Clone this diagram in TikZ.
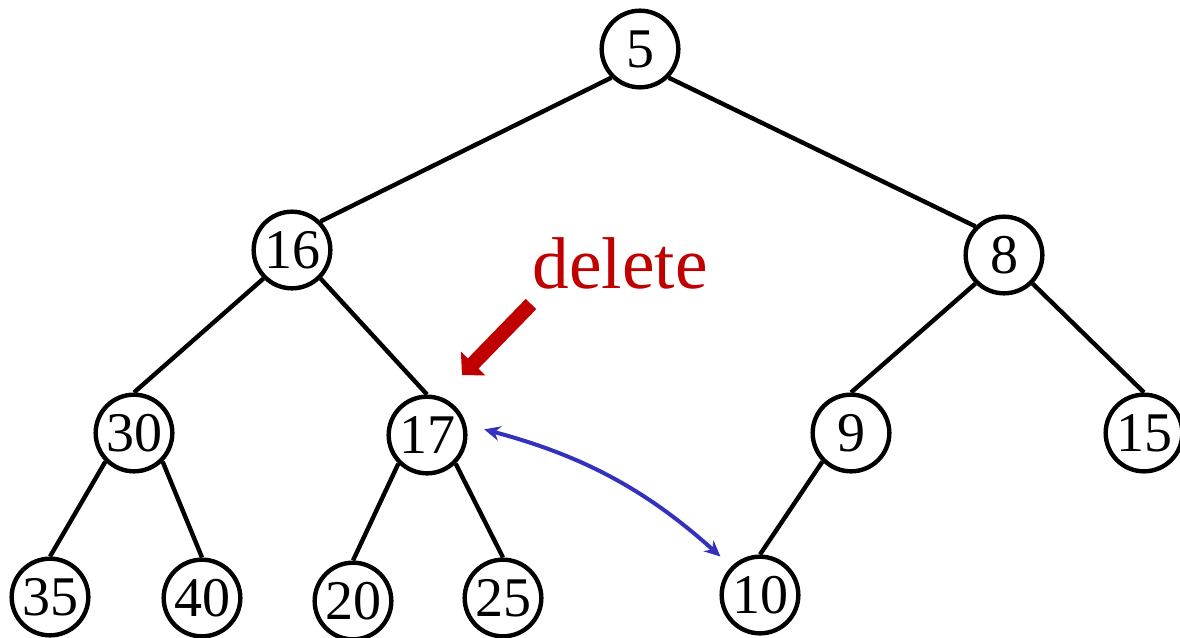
\documentclass[tikz,border=0pt]{standalone}
\usepackage{fontspec}
\setmainfont{Liberation Serif}
\usetikzlibrary{arrows.meta}
\definecolor{delred}{RGB}{192,0,0}
\definecolor{swapblue}{RGB}{50,50,190}

\begin{document}
\begin{tikzpicture}[x=0.75pt,y=-0.75pt,
  key/.style={circle, draw, line width=3.3pt, minimum size=57.5pt, inner sep=0pt,
    font=\fontsize{42}{44}\selectfont},
  edge/.style={line width=3.3pt}]
  \useasboundingbox (0,0) rectangle (1180,637);

  \node[key] (five) at (640,49) {5};

  \node[key] (sixteen) at (292,250) {16};
  \node[key] (eight) at (1004,255) {8};

  \node[key] (thirty) at (134,433) {30};
  \node[key] (seventeen) at (427,435) {17};
  \node[key] (nine) at (851,433) {9};
  \node[key] (fifteen) at (1144,433) {15};

  \node[key] (thirtyfive) at (50,597) {35};
  \node[key] (forty) at (202,598) {40};
  \node[key] (twenty) at (353,601) {20};
  \node[key] (twentyfive) at (503,598) {25};
  \node[key] (ten) at (760,595) {10};

  \draw[edge] (five.south west) -- (sixteen.north east);
  \draw[edge] (five.south east) -- (eight.north west);
  \draw[edge] (sixteen.south west) -- (thirty.north);
  \draw[edge] (sixteen.south east) -- (seventeen.north);
  \draw[edge] (eight.south west) -- (nine.north);
  \draw[edge] (eight.south east) -- (fifteen.north);
  \draw[edge] (thirty.south west) -- (thirtyfive.north);
  \draw[edge] (thirty.south east) -- (forty.north);
  \draw[edge] (seventeen.south west) -- (twenty.north);
  \draw[edge] (seventeen.south east) -- (twentyfive.north);
  \draw[edge] (nine.south west) -- (ten.north);

  % the key to delete
  \node[anchor=base, text=delred, font=\fontsize{55}{60}\selectfont] (del) at (620,288) {delete};
  \coordinate (tail) at (531,304);
  \coordinate (tip) at (462,375);
  \draw[delred, line width=11pt, -{Triangle[length=12pt, width=25pt]}] (tail) -- (tip);

  % swap with the last key
  \draw[swapblue, line width=3pt, {Stealth[length=12pt, width=11pt]}-{Stealth[length=12pt, width=11pt]},
    shorten <=14pt, shorten >=11pt] (seventeen.15) to[out=-15, in=138] (ten.135);
\end{tikzpicture}
\end{document}
